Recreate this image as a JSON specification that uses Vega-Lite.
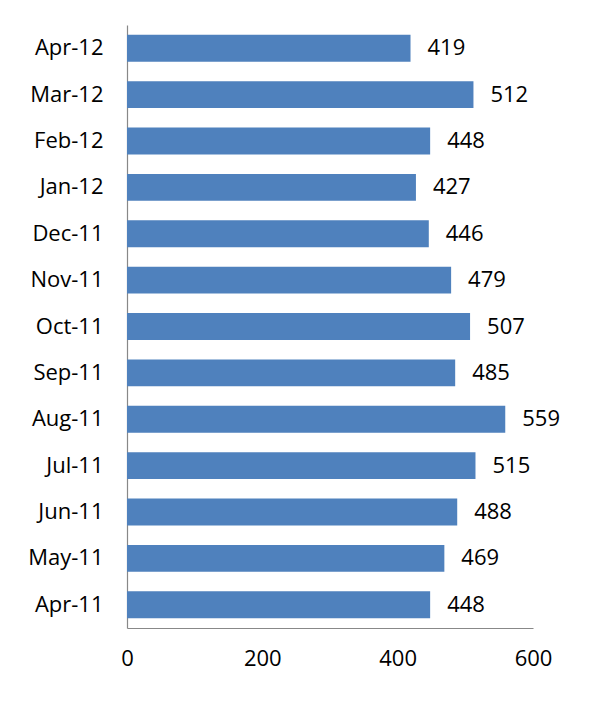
{
  "$schema": "https://vega.github.io/schema/vega-lite/v6.json",
  "width": 406,
  "height": 603,
  "autosize": {"type": "none"},
  "padding": {"left": 127, "top": 25, "right": 65, "bottom": 74},
  "background": "white",
  "config": {"view": {"stroke": null}, "font": "Open Sans"},
  "data": {
    "values": [
      {"month": "Apr-12", "value": 419},
      {"month": "Mar-12", "value": 512},
      {"month": "Feb-12", "value": 448},
      {"month": "Jan-12", "value": 427},
      {"month": "Dec-11", "value": 446},
      {"month": "Nov-11", "value": 479},
      {"month": "Oct-11", "value": 507},
      {"month": "Sep-11", "value": 485},
      {"month": "Aug-11", "value": 559},
      {"month": "Jul-11", "value": 515},
      {"month": "Jun-11", "value": 488},
      {"month": "May-11", "value": 469},
      {"month": "Apr-11", "value": 448}
    ]
  },
  "encoding": {
    "y": {
      "field": "month", "type": "nominal", "sort": null,
      "scale": {"paddingInner": 0.42, "paddingOuter": 0.21},
      "axis": {"title": null, "ticks": false, "labelFontSize": 22, "labelColor": "#000", "labelPadding": 24, "domainColor": "#888", "domainWidth": 1.2}
    },
    "x": {
      "field": "value", "type": "quantitative",
      "scale": {"domain": [0, 600], "nice": false},
      "axis": {"title": null, "values": [0, 200, 400, 600], "ticks": false, "grid": false, "labelFontSize": 22, "labelColor": "#000", "labelPadding": 20, "domainColor": "#888", "domainWidth": 1.2, "labelFlush": false}
    }
  },
  "layer": [
    {"mark": {"type": "bar", "color": "#4F81BD"}},
    {"mark": {"type": "text", "align": "left", "dx": 17, "fontSize": 22, "color": "#000", "baseline": "middle"},
     "encoding": {"text": {"field": "value", "type": "quantitative"}}}
  ]
}
